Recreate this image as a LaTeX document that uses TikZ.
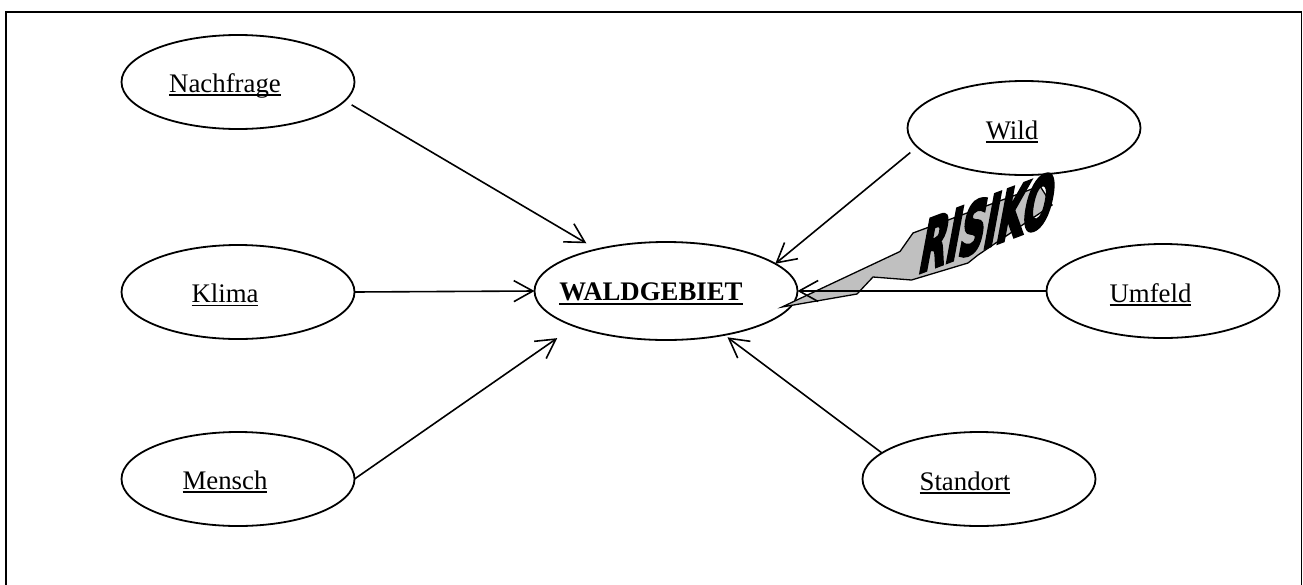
\documentclass[tikz,border=0pt]{standalone}
\usepackage{fontspec}
\setmainfont{Liberation Serif}
\newfontfamily\boltfont{DejaVu Sans}[BoldFeatures={FakeBold=5}]
\usetikzlibrary{arrows.meta,shapes.geometric}
\definecolor{boltgray}{RGB}{192,192,192}
% underlined words with a fixed underline position below the baseline
\newsavebox\ulsave
\newcommand\ulword[1]{\sbox\ulsave{#1}\rlap{\vrule width\wd\ulsave height -2.3pt depth 3.9pt}\usebox\ulsave}
\newcommand\ulbold[1]{\sbox\ulsave{\bfseries #1}\rlap{\vrule width\wd\ulsave height -2.7pt depth 5pt}\usebox\ulsave}
\begin{document}
\begin{tikzpicture}[x=1pt,y=-1pt,
  bubble/.style={ellipse,draw,line width=1.8pt,inner sep=0pt,outer sep=0pt,
                 minimum width=233pt,minimum height=94pt},
  hub/.style={bubble,minimum width=263pt,minimum height=98pt},
  caption/.style={anchor=base,inner sep=0pt,font=\fontsize{26.8}{30}\selectfont},
  link/.style={line width=1.6pt,-{Straight Barb[length=19pt,width=21pt]}},
]
\useasboundingbox (0,0) rectangle (1303,584);
\clip (0,0) rectangle (1303,584);
% outer frame (open at the bottom of the page)
\draw[line width=1.8pt] (6,12) rectangle (1301.5,640);

% ellipses
\node[hub]    (wald)   at (666,291) {};
\node[bubble] (nach)   at (238,82)  {};
\node[bubble] (klima)  at (238,292) {};
\node[bubble] (mensch) at (238,479) {};
\node[bubble] (wild)   at (1024,128) {};
\node[bubble] (umfeld) at (1163,291) {};
\node[bubble] (stand)  at (979,479) {};

% lightning bolt behind the RISIKO lettering
\draw[line width=1.3pt,fill=boltgray,line join=miter]
  (782,307) -- (900,251.5) -- (913,233) -- (1040,186) -- (1052,205)
  -- (978,255) -- (968,263) -- (911.5,280) -- (873,277) -- (857,294) -- cycle;

% connectors
\draw[link,shorten <=8pt,shorten >=12pt] (nach.-10) -- (wald.149);
\draw[link] (klima.east) -- (wald.west);
\draw[link,shorten >=21pt] (mensch.east) -- (wald.201);
\draw[link,shorten <=9pt] (wild.190) -- (wald.14);
\draw[link] (umfeld.west) -- (wald.east);
\draw[link,shorten >=4pt] (stand.165) -- (wald.-37);

% labels
\node[caption] (waldT)   at ([shift={(-15pt,-9pt)}]wald.center)    {\ulbold{WALDGEBIET}};
\node[caption] (nachT)   at ([shift={(-13pt,-10pt)}]nach.center)   {\ulword{Nachfrage}};
\node[caption] (klimaT)  at ([shift={(-13pt,-10.5pt)}]klima.center) {\ulword{Klima}};
\node[caption] (menschT) at ([shift={(-13pt,-10pt)}]mensch.center) {\ulword{Mensch}};
\node[caption] (wildT)   at ([shift={(-12pt,-11pt)}]wild.center)   {\ulword{Wild}};
\node[caption] (umfeldT) at ([shift={(-12.5pt,-11pt)}]umfeld.center) {\ulword{Umfeld}};
\node[caption] (standT)  at ([shift={(-14pt,-11pt)}]stand.center)  {\ulword{Standort}};

% slanted word on the bolt
\node[inner sep=0pt,font=\boltfont\bfseries\fontsize{68}{68}\selectfont,
      yslant=0.38,xslant=0.2,xscale=0.51] (risiko) at (988,222) {RISIKO};
\end{tikzpicture}
\end{document}
